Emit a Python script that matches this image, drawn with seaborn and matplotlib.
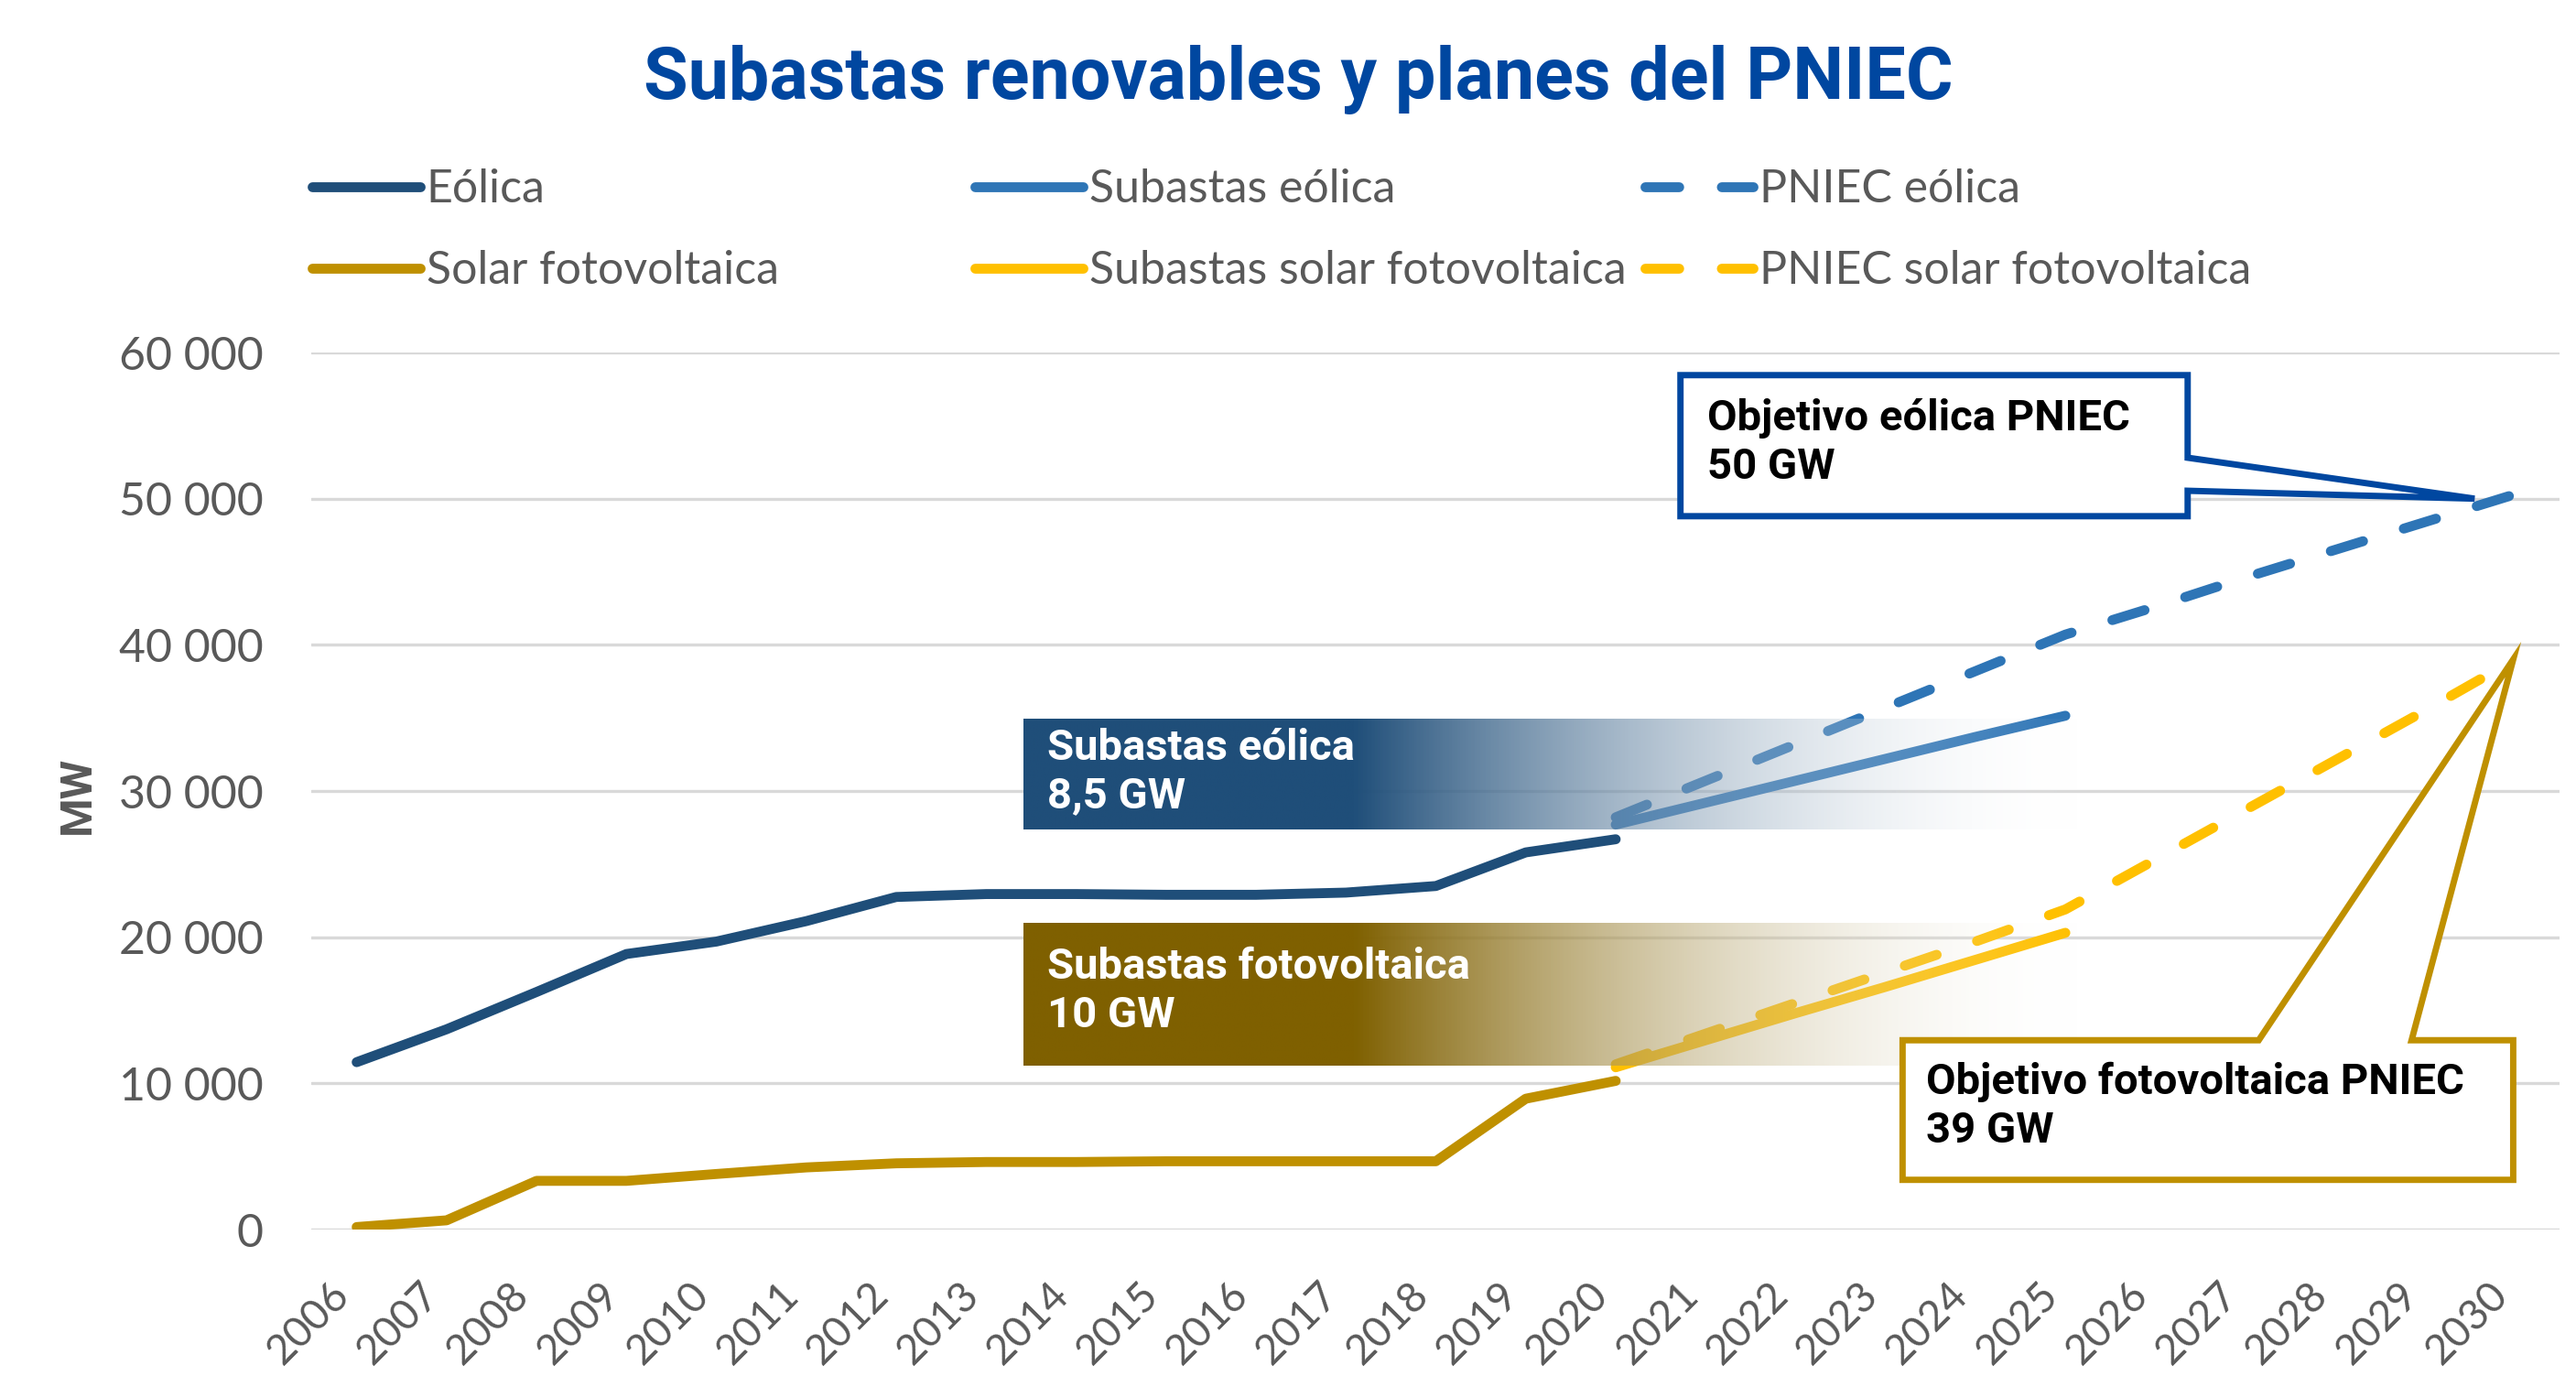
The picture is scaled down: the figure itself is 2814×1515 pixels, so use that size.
import numpy as np
import pandas as pd
import matplotlib
matplotlib.use("Agg")
import matplotlib.pyplot as plt
import matplotlib.colors as mcolors
from matplotlib.patches import Polygon
import seaborn as sns

# ---------------- data ----------------
years_all = list(range(2006, 2031))
years_hist = list(range(2006, 2021))
years_sub = list(range(2020, 2026))
years_plan = list(range(2020, 2031))

eolica = [11450, 13700, 16250, 18850, 19700, 21100, 22750, 22950, 22950, 22900,
          22900, 23050, 23500, 25800, 26700]
solar = [170, 630, 3330, 3330, 3800, 4250, 4530, 4620, 4620, 4670,
         4670, 4670, 4670, 8950, 10170]
subastas_eolica = [27700, 29200, 30700, 32200, 33700, 35150]
subastas_solar = [11100, 12950, 14800, 16600, 18450, 20300]
pniec_eolica = [28200, 30700, 33200, 35700, 38200, 40700, 42600, 44600, 46500, 48400, 50300]
pniec_solar = [11300, 13400, 15500, 17600, 19700, 21900, 25300, 28700, 32100, 35500, 39000]

xtick_labels = [str(y) for y in years_all]
yticks = [0, 10000, 20000, 30000, 40000, 50000, 60000]
ytick_labels = ["0", "10 000", "20 000", "30 000", "40 000", "50 000", "60 000"]

series_names = ["Eólica", "Subastas eólica", "PNIEC eólica",
                "Solar fotovoltaica", "Subastas solar fotovoltaica", "PNIEC solar fotovoltaica"]
target_eolica_gw = 50
target_solar_gw = 39
subasta_eolica_gw = "8,5"
subasta_solar_gw = "10"

title = "Subastas renovables y planes del PNIEC"

# ---------------- style ----------------
C_EOL = "#1F4E79"
C_EOL_L = "#2E75B6"
C_SOL = "#BF9000"
C_SOL_L = "#FFC000"
C_TITLE = "#0047A0"
C_GOLD_D = "#7F6000"
GRAY = "#595959"

sns.set_theme(style="white")
plt.rcParams["font.family"] = ["Lato", "DejaVu Sans"]
BOLD = ["Roboto", "DejaVu Sans"]

fig = plt.figure(figsize=(28.14, 15.15), dpi=100)
ax = fig.add_axes([0.1210, 0.11353, 0.87278, 0.63234])

LW = 7.8
DASH = (0, (3.4, 4.3))

df_h = pd.DataFrame({"year": years_hist, "eol": eolica, "sol": solar})
df_s = pd.DataFrame({"year": years_sub, "eol": subastas_eolica, "sol": subastas_solar})
df_p = pd.DataFrame({"year": years_plan, "eol": pniec_eolica, "sol": pniec_solar})

def draw(df, col, color, label, dashed=False):
    kw = dict(solid_capstyle="round", dash_capstyle="round")
    if dashed:
        kw["linestyle"] = DASH
    sns.lineplot(data=df, x="year", y=col, ax=ax, color=color, linewidth=LW,
                 label=label, legend=False, zorder=3, **kw)
    return ax.lines[-1]

h_eol = draw(df_h, "eol", C_EOL, series_names[0])
h_sol = draw(df_h, "sol", C_SOL, series_names[3])
h_peol = draw(df_p, "eol", C_EOL_L, series_names[2], dashed=True)
h_psol = draw(df_p, "sol", C_SOL_L, series_names[5], dashed=True)
h_seol = draw(df_s, "eol", C_EOL_L, series_names[1])
h_ssol = draw(df_s, "sol", C_SOL_L, series_names[4])

# ---------------- gradient boxes ----------------
def grad_box(x0, x1, xs, y0, y1, color):
    n = 600
    xx = np.linspace(x0, x1, n)
    t = np.clip((xx - xs) / (x1 - xs), 0, 1)
    rgb = np.array(mcolors.to_rgb(color))
    cols = rgb[None, :] * (1 - t[:, None]) + t[:, None]
    alpha = 1 - t
    img = np.concatenate([cols, alpha[:, None]], axis=1)[None, :, :]
    ax.imshow(img, extent=(x0, x1, y0, y1), aspect="auto", zorder=4,
              interpolation="bilinear")

grad_box(2013.41, 2025.16, 2017.09, 27360, 34880, C_EOL)
grad_box(2013.41, 2025.16, 2017.09, 11210, 20980, C_GOLD_D)

TXT = dict(fontsize=34, fontweight="bold", family=BOLD, va="center", ha="left",
           linespacing=1.25)
ax.text(2013.68, 31300, f"Subastas eólica\n{subasta_eolica_gw} GW", color="white",
        zorder=5, **TXT)
ax.text(2013.68, 16330, f"Subastas fotovoltaica\n{subasta_solar_gw} GW", color="white",
        zorder=5, **TXT)

# ---------------- callouts ----------------
L, R, T, B = 2020.72, 2026.36, 58450, 48800
tip = (2029.55, target_eolica_gw * 1000)
poly = Polygon([(L, T), (R, T), (R, 52800), tip, (R, 50540), (R, B), (L, B)],
               closed=True, facecolor="white", edgecolor=C_TITLE, linewidth=5,
               joinstyle="miter", zorder=6, clip_on=False)
ax.add_patch(poly)
ax.text(2021.02, 53850, f"Objetivo eólica PNIEC\n{target_eolica_gw} GW", color="black",
        zorder=7, **TXT)

L, R, T, B = 2023.19, 2029.98, 12950, 3400
tip = (2029.98, target_solar_gw * 1000)
poly = Polygon([(L, T), (2027.15, T), tip, (2028.85, T), (R, T), (R, B), (L, B)],
               closed=True, facecolor="white", edgecolor=C_SOL, linewidth=5,
               joinstyle="miter", zorder=6, clip_on=False)
ax.add_patch(poly)
ax.text(2023.45, 8440, f"Objetivo fotovoltaica PNIEC\n{target_solar_gw} GW", color="black",
        zorder=7, **TXT)

# ---------------- axes ----------------
ax.set_xlim(2005.5, 2030.5)
ax.set_ylim(0, 60000)
ax.set_xticks(years_all)
ax.set_xticklabels(xtick_labels, rotation=45, ha="right", fontsize=33, color=GRAY)
ax.set_yticks(yticks)
ax.set_yticklabels(ytick_labels, fontsize=36, color=GRAY)
ax.tick_params(axis="y", length=0, pad=38)
ax.tick_params(axis="x", length=0, pad=36)
ax.yaxis.grid(True, color="#D9D9D9", linewidth=2.4)
ax.xaxis.grid(False)
ax.set_axisbelow(True)
for s in ax.spines.values():
    s.set_visible(False)
ax.set_xlabel("")
ax.set_ylabel("")

fig.text(85 / 2814, 1 - 868 / 1515, "MW", rotation=90, fontsize=35, fontweight="bold",
         family=BOLD, color=GRAY, ha="center", va="center")

fig.text(0.504, 1 - 108 / 1515, title, fontsize=57, fontweight="bold", family=BOLD,
         color=C_TITLE, ha="center", va="baseline")

# ---------------- legends ----------------
cols = [([h_eol, h_sol], [series_names[0], series_names[3]], 341),
        ([h_seol, h_ssol], [series_names[1], series_names[4]], 1065),
        ([h_peol, h_psol], [series_names[2], series_names[5]], 1797)]
for hs, labs, xpx in cols:
    fig.legend(handles=hs, labels=labs, loc="upper left",
               bbox_to_anchor=(xpx / 2814, 1 - 184 / 1515), frameon=False,
               fontsize=36, handlelength=2.35, handletextpad=0.14, labelspacing=0.86,
               borderpad=0, borderaxespad=0, labelcolor=GRAY)

fig.savefig("out.png", dpi=100)
